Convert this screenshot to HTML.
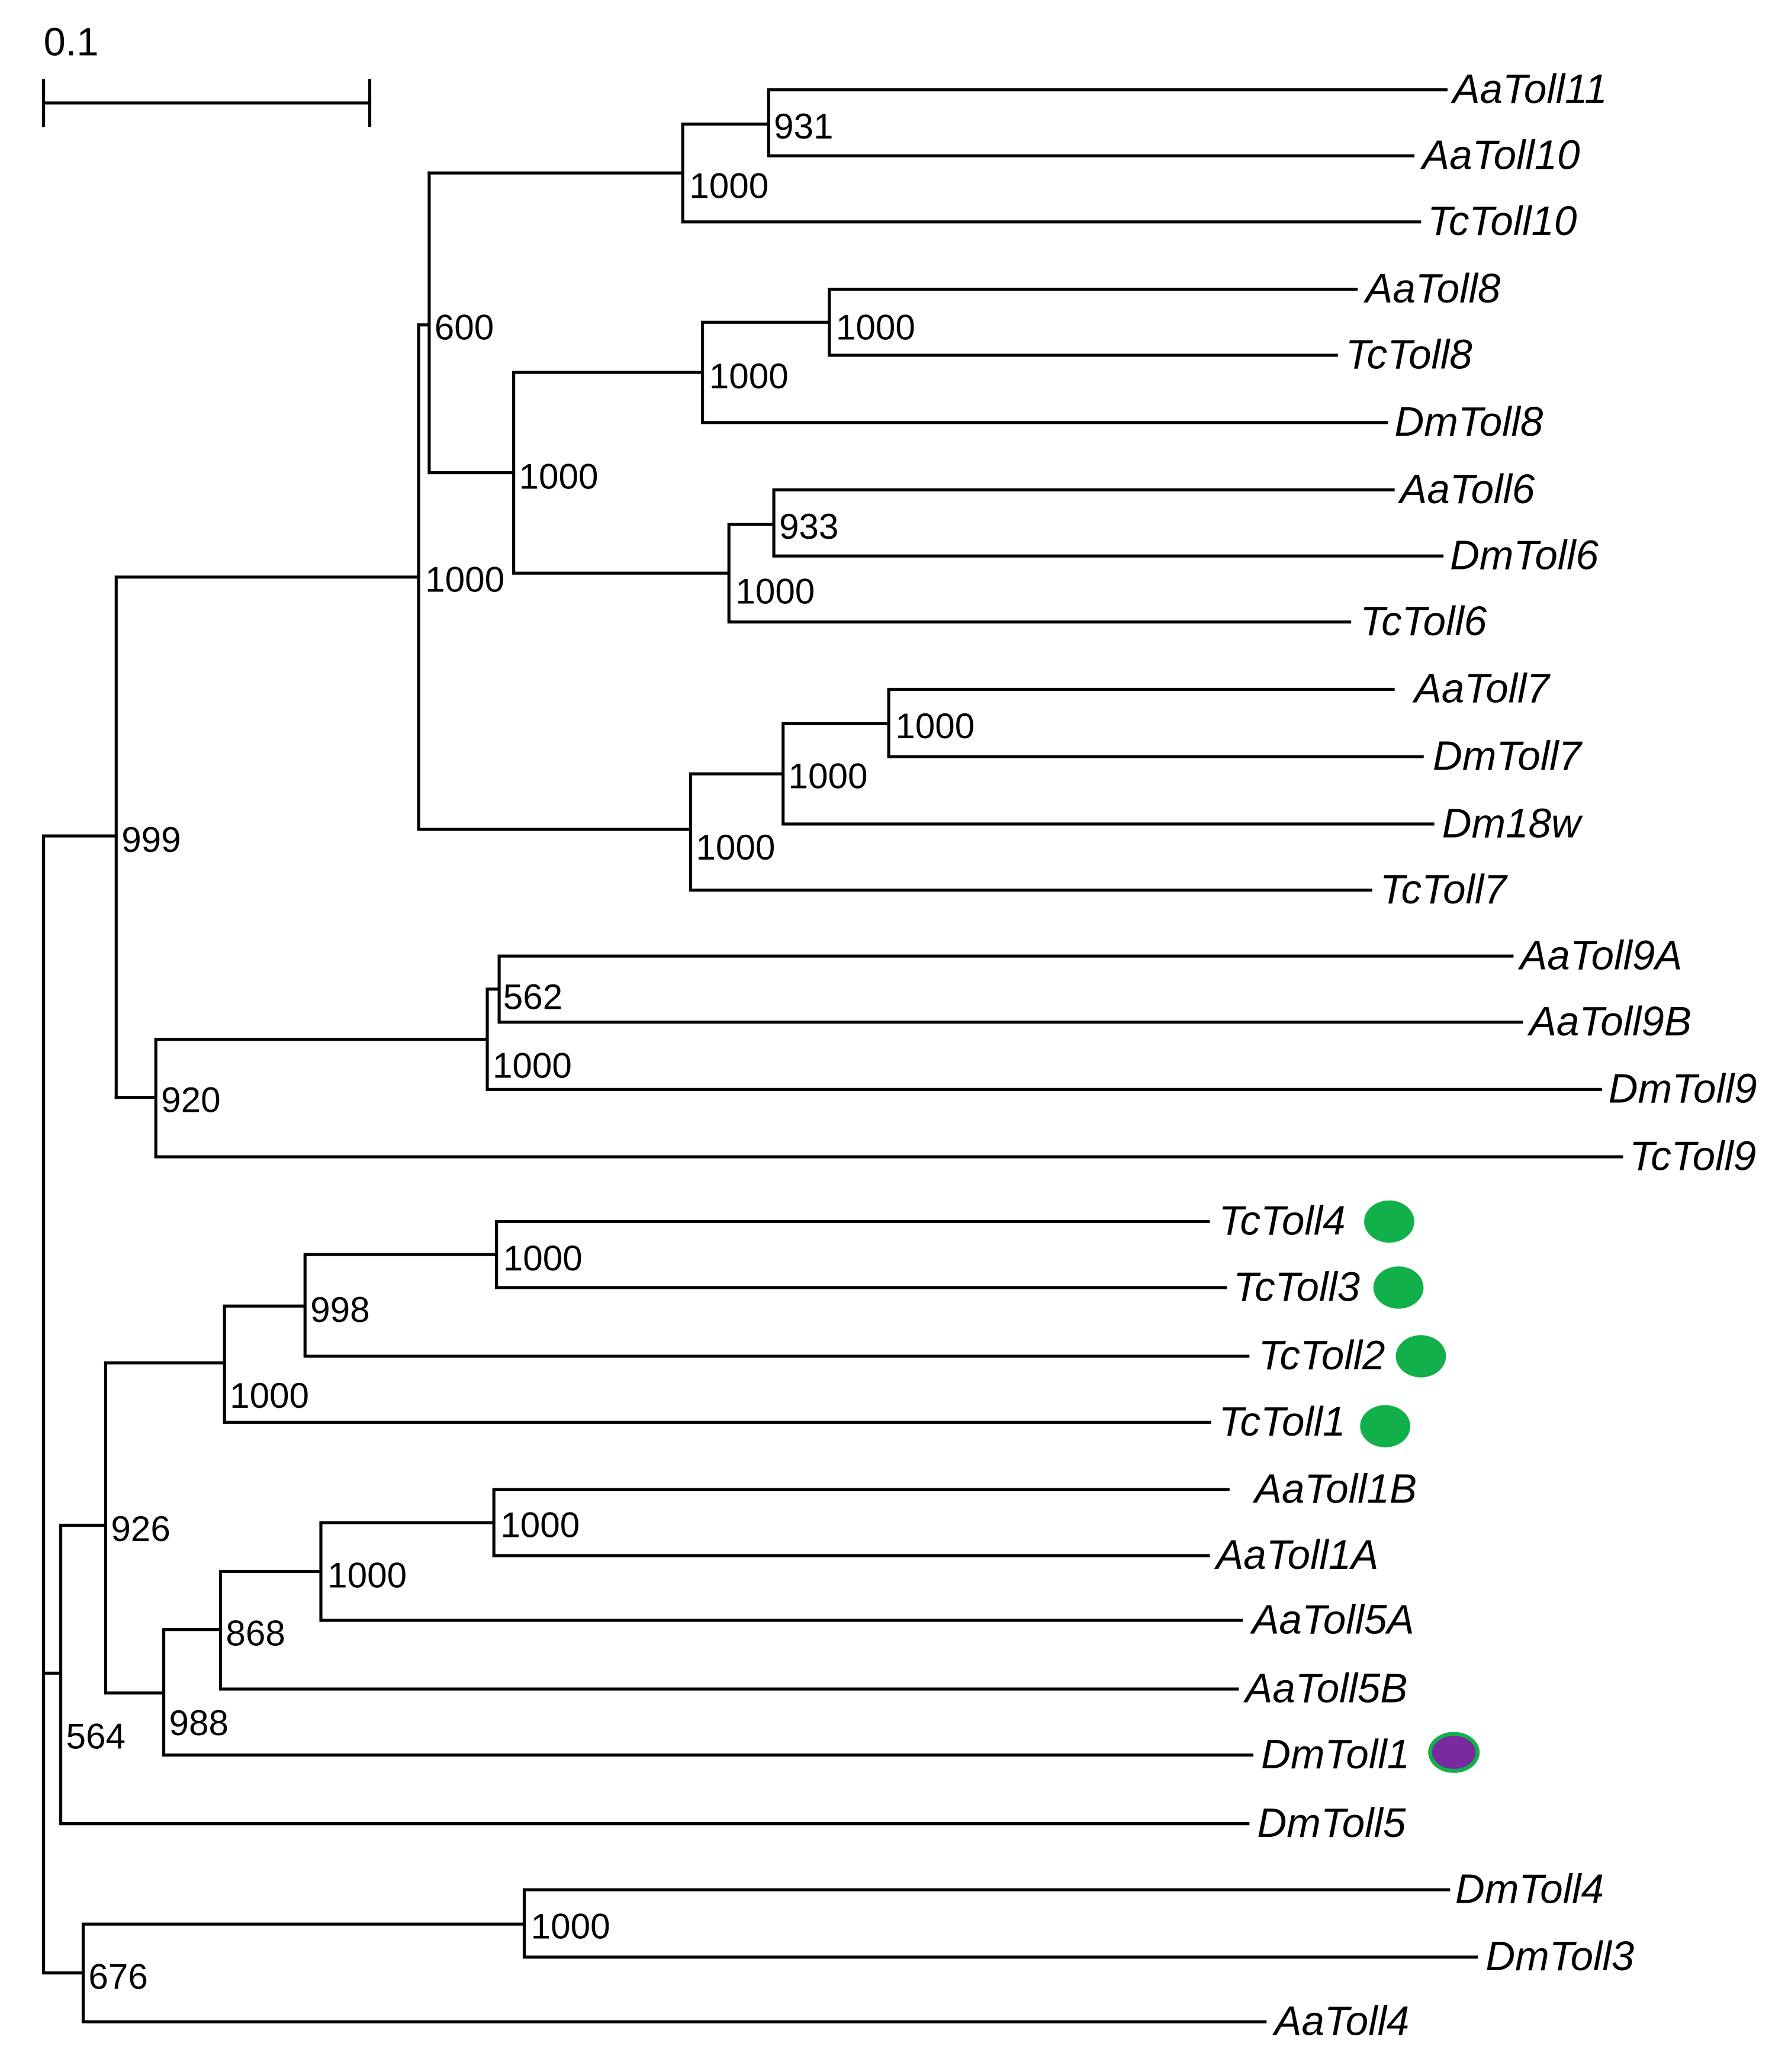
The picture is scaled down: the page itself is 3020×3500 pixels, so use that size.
<!DOCTYPE html>
<html><head><meta charset="utf-8"><style>html,body{margin:0;padding:0;background:#fff}svg{display:block}</style></head><body>
<svg width="3020" height="3500" viewBox="0 0 1354 1569" preserveAspectRatio="none" xmlns="http://www.w3.org/2000/svg">
<g stroke="#000" stroke-width="2.3" fill="none" stroke-linecap="square">
<path d="M33 78H280M33 61V95M280 61V95"/>
<path d="M582 68H1095M582 118H1070M582 68V118M517 94H582M517 168H1075M517 94V168M325 131H517"/>
<path d="M628 219H1027M628 269H1012M628 219V269M532 244H628M532 320H1050M532 244V320M389 282H532"/>
<path d="M586 371H1055M586 421H1092M586 371V421M552 397H586M552 471H1022M552 397V471M389 434H552M389 282V434"/>
<path d="M325 358H389M325 131V358M317 246H325"/>
<path d="M673 522H1055M673 573H1077M673 522V573M593 548H673M593 624H1085M593 548V624M523 586H593M523 674H1038M523 586V674M317 628H523M317 246V628"/>
<path d="M88 437H317M88 437V831M33 633H88"/>
<path d="M378 724H1145M378 774H1152M378 724V774M369 749H378M369 825H1212M369 749V825M118 787H369M118 876H1228M118 787V876M88 831H118"/>
<path d="M376 925H915M376 975H928M376 925V975M231 950H376M231 1027H945M231 950V1027M170 989H231M170 1077H916M170 989V1077M80 1032H170"/>
<path d="M374 1128H930M374 1178H915M374 1128V1178M243 1153H374M243 1227H940M243 1153V1227M167 1190H243M167 1279H937M167 1190V1279M124 1234H167M124 1329H948M124 1234V1329M80 1282H124M80 1032V1282M46 1155H80M46 1381H945M46 1155V1381M33 1267H46"/>
<path d="M397 1431H1097M397 1482H1118M397 1431V1482M63 1457H397M63 1531H958M63 1457V1531M33 1494H63M33 633V1494"/>
</g>
<g font-family="Liberation Sans, sans-serif" font-size="27" fill="#000">
<text x="33" y="42" font-size="30">0.1</text>
<text x="586" y="105">931</text>
<text x="522" y="150">1000</text>
<text x="329" y="257">600</text>
<text x="633" y="257">1000</text>
<text x="537" y="294">1000</text>
<text x="393" y="370">1000</text>
<text x="590" y="408">933</text>
<text x="557" y="457">1000</text>
<text x="322" y="448">1000</text>
<text x="678" y="559">1000</text>
<text x="597" y="597">1000</text>
<text x="527" y="651">1000</text>
<text x="92" y="645">999</text>
<text x="381" y="764">562</text>
<text x="373" y="816">1000</text>
<text x="122" y="842">920</text>
<text x="381" y="962">1000</text>
<text x="235" y="1001">998</text>
<text x="174" y="1066">1000</text>
<text x="84" y="1167">926</text>
<text x="379" y="1164">1000</text>
<text x="248" y="1202">1000</text>
<text x="171" y="1246">868</text>
<text x="128" y="1314">988</text>
<text x="50" y="1324">564</text>
<text x="402" y="1468">1000</text>
<text x="67" y="1506">676</text>
</g>
<g font-family="Liberation Sans, sans-serif" font-size="31" font-style="italic" fill="#000">
<text x="1100" y="78">AaToll11</text>
<text x="1077" y="128">AaToll10</text>
<text x="1081" y="178">TcToll10</text>
<text x="1034" y="229">AaToll8</text>
<text x="1019" y="279">TcToll8</text>
<text x="1056" y="330">DmToll8</text>
<text x="1060" y="381">AaToll6</text>
<text x="1098" y="431">DmToll6</text>
<text x="1030" y="481">TcToll6</text>
<text x="1071" y="532">AaToll7</text>
<text x="1085" y="583">DmToll7</text>
<text x="1092" y="634">Dm18w</text>
<text x="1045" y="684">TcToll7</text>
<text x="1151" y="734">AaToll9A</text>
<text x="1158" y="784">AaToll9B</text>
<text x="1218" y="835">DmToll9</text>
<text x="1234" y="886">TcToll9</text>
<text x="923" y="935">TcToll4</text>
<text x="934" y="985">TcToll3</text>
<text x="953" y="1037">TcToll2</text>
<text x="923" y="1087">TcToll1</text>
<text x="950" y="1138">AaToll1B</text>
<text x="921" y="1188">AaToll1A</text>
<text x="948" y="1237">AaToll5A</text>
<text x="943" y="1289">AaToll5B</text>
<text x="955" y="1339">DmToll1</text>
<text x="952" y="1391">DmToll5</text>
<text x="1102" y="1441">DmToll4</text>
<text x="1125" y="1492">DmToll3</text>
<text x="965" y="1541">AaToll4</text>
</g>
<g fill="#12b04a">
<ellipse cx="1052" cy="925" rx="19" ry="16"/>
<ellipse cx="1059" cy="975" rx="19" ry="16"/>
<ellipse cx="1076" cy="1027" rx="19" ry="16"/>
<ellipse cx="1049" cy="1080" rx="19" ry="16"/>
</g>
<ellipse cx="1101" cy="1327" rx="18" ry="14" fill="#7a2aa0" stroke="#12b04a" stroke-width="3"/>
</svg>
</body></html>
